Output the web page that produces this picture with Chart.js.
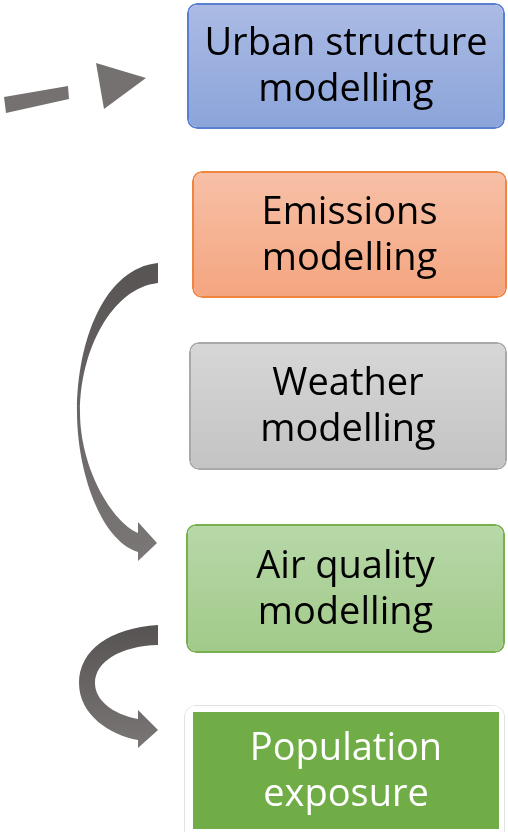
<!DOCTYPE html>
<html>
<head>
<meta charset="utf-8">
<script src="https://cdn.jsdelivr.net/npm/chart.js@4/dist/chart.umd.min.js"></script>
<style>
html,body{margin:0;padding:0;background:#ffffff;}
#wrap{width:508px;height:832px;position:relative;}
</style>
</head>
<body>
<div id="wrap"><canvas id="c" width="508" height="832"></canvas></div>
<script>
// ---- diagram data (in chart units; x: 0..508, y: 0..832 top-down) ----
const boxLines1 = ["Urban structure", "Emissions", "Weather", "Air quality", "Population"];
const boxLines2 = ["modelling", "modelling", "modelling", "modelling", "exposure"];
const boxLeft   = [187, 192, 189, 186, 193];
const boxRight  = [505, 507, 507, 505, 499];
const boxTop    = [3, 171, 342, 524, 712];
const boxBottom = [129, 298, 470, 653, 829];
const boxRadius = [10, 10, 10, 10, 0];
const boxFillTop    = ["#abbbe4", "#f7c0a7", "#d7d7d7", "#b8d8a9", "#70ad47"];
const boxFillBottom = ["#8ba4da", "#f4a57f", "#c3c3c3", "#a1ca89", "#70ad47"];
const boxBorder     = ["#5a7fd0", "#ee8640", "#a9a9a9", "#78b04f", "#70ad47"];
const boxBorderW    = [2, 2, 2, 2, 0];
const boxText       = ["#000000", "#000000", "#000000", "#000000", "#ffffff"];

// white frame around the last box
const frameLeft = [184], frameRight = [505], frameTop = [705], frameBottom = [842];

// dashed arrow (dash segment polygon + head triangle)
const dashX = [4, 68, 69, 6];
const dashY = [97, 86, 99, 113];
const dashHeadX = [96, 146, 104];
const dashHeadY = [63, 78, 109];

// curved arrows: outer edge (2 cubic segments), head, inner edge (2 cubic segments)
const arrowA = {
  outer: [[158,263],[105,268],[77,340],[77,412],[77,470],[100,540],[138,552]],
  head:  [[138,561],[157,543],[138,522]],
  inner: [[138,533],[112,522],[80,468],[80,412],[80,350],[112,288],[158,283]],
  colors: ["#585454", "#7b7777"]
};
const arrowB = {
  outer: [[158,625],[110,628],[79,650],[79,683],[79,715],[110,735],[138,740]],
  head:  [[138,748],[158,730],[138,710]],
  inner: [[138,719],[112,714],[95,700],[95,683],[95,662],[120,646],[158,645]],
  colors: ["#575353", "#7a7676"]
};
const arrowColor = "#767171";

// ---- chart ----
function gradFor(i){
  return function(ctx){
    const chart = ctx.chart;
    if(!chart.chartArea) return boxFillTop[i];
    const y = chart.scales.y;
    const g = chart.ctx.createLinearGradient(0, y.getPixelForValue(boxTop[i]), 0, y.getPixelForValue(boxBottom[i]));
    g.addColorStop(0, boxFillTop[i]);
    g.addColorStop(1, boxFillBottom[i]);
    return g;
  };
}

const datasets = [];
for (let i = 0; i < boxLines1.length; i++) {
  datasets.push({
    label: boxLines1[i] + " " + boxLines2[i],
    data: [{ x: [boxLeft[i], boxRight[i]], y: (boxTop[i] + boxBottom[i]) / 2 }],
    backgroundColor: gradFor(i),
    borderColor: boxBorder[i],
    borderWidth: boxBorderW[i],
    borderRadius: boxRadius[i],
    borderSkipped: false,
    inflateAmount: 0,
    grouped: false,
    barThickness: boxBottom[i] - boxTop[i]
  });
}
// frame is the last dataset so it is painted first (underneath)
datasets.push({
  label: "frame",
  data: [{ x: [frameLeft[0], frameRight[0]], y: (frameTop[0] + frameBottom[0]) / 2 }],
  backgroundColor: "#ffffff",
  borderColor: "#e2e2e2",
  borderWidth: 1,
  borderRadius: 12,
  borderSkipped: false,
  inflateAmount: 0,
  grouped: false,
  barThickness: frameBottom[0] - frameTop[0]
});

function P(chart, pt){
  return [chart.scales.x.getPixelForValue(pt[0]), chart.scales.y.getPixelForValue(pt[1])];
}

function drawCurved(chart, a){
  const ctx = chart.ctx;
  const o = a.outer.map(p => P(chart, p));
  const h = a.head.map(p => P(chart, p));
  const n = a.inner.map(p => P(chart, p));
  const top = Math.min(o[0][1], n[6][1]);
  const bot = Math.max(h[0][1], o[6][1]);
  const g = ctx.createLinearGradient(0, top, 0, bot);
  g.addColorStop(0, a.colors[0]);
  g.addColorStop(1, a.colors[1]);
  ctx.beginPath();
  ctx.moveTo(o[0][0], o[0][1]);
  ctx.bezierCurveTo(o[1][0], o[1][1], o[2][0], o[2][1], o[3][0], o[3][1]);
  ctx.bezierCurveTo(o[4][0], o[4][1], o[5][0], o[5][1], o[6][0], o[6][1]);
  h.forEach(p => ctx.lineTo(p[0], p[1]));
  ctx.lineTo(n[0][0], n[0][1]);
  ctx.bezierCurveTo(n[1][0], n[1][1], n[2][0], n[2][1], n[3][0], n[3][1]);
  ctx.bezierCurveTo(n[4][0], n[4][1], n[5][0], n[5][1], n[6][0], n[6][1]);
  ctx.closePath();
  ctx.fillStyle = g;
  ctx.fill();
}

function drawPoly(chart, xs, ys, color){
  const ctx = chart.ctx;
  ctx.beginPath();
  xs.forEach((x, i) => {
    const p = P(chart, [x, ys[i]]);
    if (i === 0) ctx.moveTo(p[0], p[1]); else ctx.lineTo(p[0], p[1]);
  });
  ctx.closePath();
  ctx.fillStyle = color;
  ctx.fill();
}

const diagramPlugin = {
  id: "diagram",
  afterDatasetsDraw(chart){
    const ctx = chart.ctx;
    ctx.save();
    drawPoly(chart, dashX, dashY, arrowColor);
    drawPoly(chart, dashHeadX, dashHeadY, arrowColor);
    drawCurved(chart, arrowA);
    drawCurved(chart, arrowB);
    ctx.font = '38px "Open Sans", "Noto Sans", sans-serif';
    ctx.textAlign = "center";
    ctx.textBaseline = "alphabetic";
    for (let i = 0; i < boxLines1.length; i++) {
      const xc = (chart.scales.x.getPixelForValue(boxLeft[i]) + chart.scales.x.getPixelForValue(boxRight[i])) / 2;
      const yc = chart.scales.y.getPixelForValue((boxTop[i] + boxBottom[i]) / 2);
      ctx.fillStyle = boxText[i];
      ctx.fillText(boxLines1[i], xc, yc - 11);
      ctx.fillText(boxLines2[i], xc, yc + 35);
    }
    ctx.restore();
  }
};

new Chart(document.getElementById("c"), {
  type: "bar",
  data: { datasets },
  options: {
    indexAxis: "y",
    responsive: false,
    animation: false,
    layout: { padding: 0 },
    scales: {
      x: { type: "linear", min: 0, max: 508, offset: false, display: false },
      y: { type: "linear", min: 0, max: 832, reverse: true, offset: false, display: false, grid: { offset: false } }
    },
    plugins: { legend: { display: false }, tooltip: { enabled: false } },
    events: []
  },
  plugins: [diagramPlugin]
});
</script>
</body>
</html>
